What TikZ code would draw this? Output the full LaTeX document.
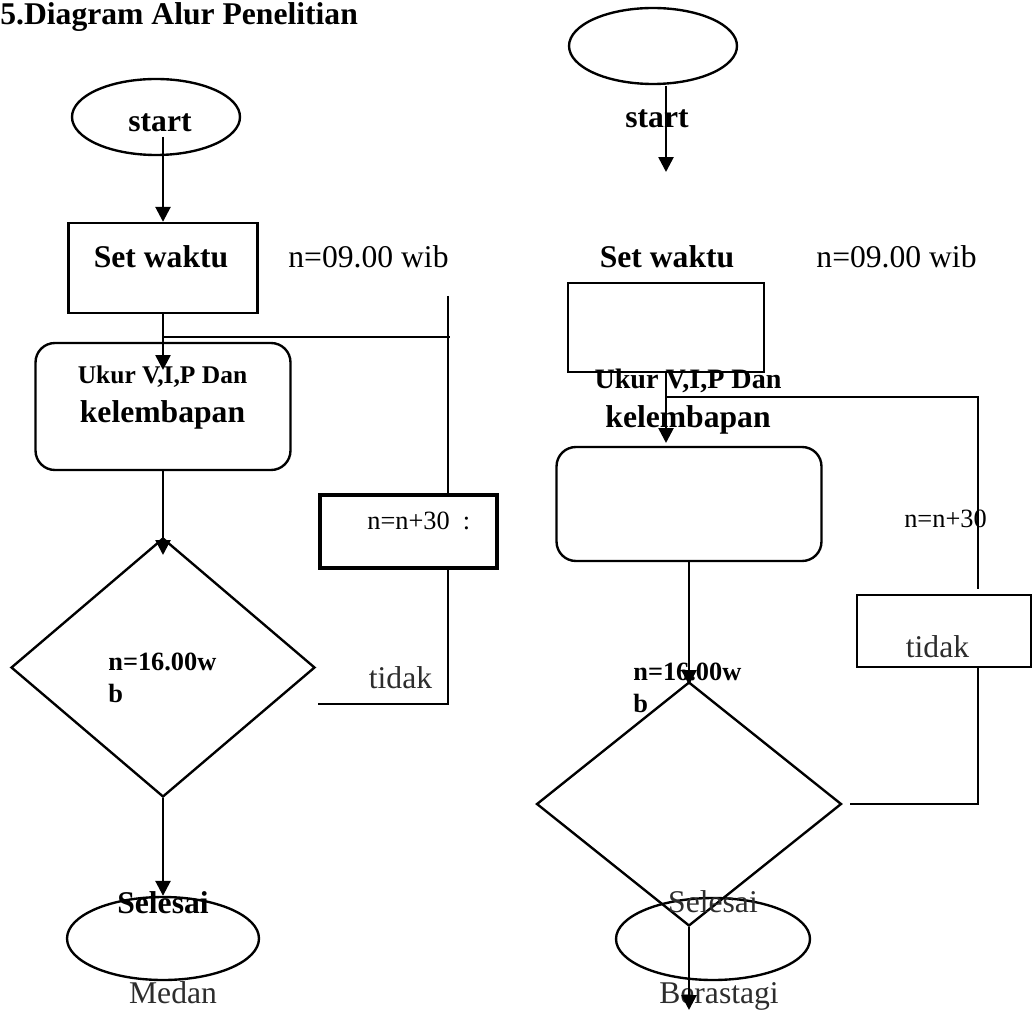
\documentclass[tikz,border=0pt]{standalone}
\usepackage{fontspec}
\setmainfont{Liberation Serif}
\usetikzlibrary{positioning,calc,shapes.geometric,arrows.meta}
\definecolor{abu}{RGB}{45,45,45}
\tikzset{
  bentuk/.style={draw, line width=1.35pt, inner sep=0pt},
  oval/.style={bentuk, ellipse},
  kotak/.style={bentuk, rectangle},
  proses/.style={bentuk, rectangle, rounded corners=11pt},
  putusan/.style={bentuk, diamond},
  teks/.style={inner sep=0pt, anchor=base, font=\fontsize{18}{21}\selectfont},
  tebal/.style={teks, font=\bfseries\fontsize{18}{21}\selectfont},
  kecil/.style={teks, font=\bfseries\fontsize{15}{18}\selectfont},
  panah/.style={->, line width=1.5pt},
  garis/.style={line width=0.9pt}
}

\begin{document}
\begin{tikzpicture}[x=0.02cm, y=-0.02cm, >={Triangle[width=8.5pt,length=8.5pt]}]
    \useasboundingbox (0,0) rectangle (1033,1023);

    \node [tebal, anchor=base west] (judul) at (0,25) {5.Diagram Alur Penelitian};

    % Medan
    \node [oval, minimum width=3.36cm, minimum height=1.52cm] (startA) at (156,117) {};
    \node [kotak, minimum width=3.78cm, minimum height=1.8cm] (setA) at (163,268) {};
    \node [proses, minimum width=5.1cm, minimum height=2.54cm] (ukurA) at (163,406.5) {};
    \node [putusan, minimum width=6.08cm, minimum height=5.18cm] (cekA) at (163,667.5) {};
    \node [kotak, line width=1.8pt, minimum width=3.54cm, minimum height=1.46cm] (tambahA) at (408.5,531.5) {};
    \node [oval, minimum width=3.84cm, minimum height=1.66cm] (selesaiA) at (163,938.5) {};

    \node [tebal] (tStartA) at (160,132) {start};
    \node [tebal] (tSetA) at (161,268) {Set waktu};
    \node [teks] (tJamA) at (368.5,268) {n=09.00 wib};
    \node [kecil, font=\bfseries\fontsize{14.5}{17}\selectfont] (tUkurA) at (162.5,383) {Ukur V,I,P Dan};
    \node [tebal] (tLembabA) at (162.5,422) {kelembapan};
    \node [teks, anchor=base west, font=\fontsize{15}{18}\selectfont] (tTambahA) at (367,529) {n=n+30\ \ :};
    \node [kecil, anchor=base west, align=left] (tCekA) at (108,702) {n=16.00w\\b};
    \node [teks, text=abu] (tTidakA) at (400.5,688) {tidak};
    \node [tebal] (tSelesaiA) at (163,913) {Selesai};
    \node [teks, text=abu] (tMedan) at (173,1003) {Medan};

    \coordinate (aA) at (163,137);
    \coordinate (tipA1) at (163,370);
    \coordinate (jA) at (163,337);
    \coordinate (kA) at (450,337);
    \coordinate (pA) at (448,296);
    \coordinate (tipA2) at (163,555);
    \coordinate (noA) at (318,704);
    \coordinate (cA) at (448,704);

    \draw [panah] (aA) -- (aA |- setA.north);
    \draw [panah] (setA.south) -- (tipA1);
    \draw [garis] (jA) -- (kA);
    \draw [garis] (pA) -- (pA |- tambahA.north);
    \draw [panah] (ukurA.south) -- (tipA2);
    \draw [garis] (noA) -- (cA) -- (cA |- tambahA.south);
    \draw [panah] (cekA.south) -- (selesaiA.north);

    % Berastagi
    \node [oval, minimum width=3.36cm, minimum height=1.52cm] (startB) at (653,46) {};
    \node [kotak, minimum width=3.92cm, minimum height=1.78cm] (setB) at (666,327.5) {};
    \node [proses, minimum width=5.3cm, minimum height=2.28cm] (ukurB) at (689,504) {};
    \node [putusan, minimum width=6.1cm, minimum height=4.88cm] (cekB) at (689,804) {};
    \node [kotak, minimum width=3.48cm, minimum height=1.44cm] (tambahB) at (944,631) {};
    \node [oval, minimum width=3.88cm, minimum height=1.64cm] (selesaiB) at (713,939) {};

    \node [tebal] (tStartB) at (657,128) {start};
    \node [tebal] (tSetB) at (667,268) {Set waktu};
    \node [teks] (tJamB) at (896.5,268) {n=09.00 wib};
    \node [kecil, font=\bfseries\fontsize{16}{19}\selectfont] (tUkurB) at (688,388) {Ukur V,I,P Dan};
    \node [tebal] (tLembabB) at (688,427) {kelembapan};
    \node [teks, font=\fontsize{15}{18}\selectfont] (tTambahB) at (945.5,527) {n=n+30};
    \node [kecil, anchor=base west, align=left] (tCekB) at (633,712) {n=16.00w\\b};
    \node [teks, text=abu] (tTidakB) at (937.5,657) {tidak};
    \node [teks, text=abu] (tSelesaiB) at (713,912) {Selesai};
    \node [teks, text=abu] (tBerastagi) at (719,1003) {Berastagi};

    \coordinate (aB) at (666,86);
    \coordinate (bB) at (666,172);
    \coordinate (tipB1) at (666,443);
    \coordinate (jB) at (666,397);
    \coordinate (kB) at (978,589);
    \coordinate (tipB2) at (689,685);
    \coordinate (noB) at (850,804);
    \coordinate (cB) at (978,804);
    \coordinate (tipB3) at (689,1010);

    \draw [panah] (aB) -- (bB);
    \draw [panah] (setB.south) -- (tipB1);
    \draw [garis] (jB) -| (kB);
    \draw [panah] (ukurB.south) -- (tipB2);
    \draw [garis] (noB) -- (cB) -- (cB |- tambahB.south);
    \draw [panah] (cekB.south) -- (tipB3);

\end{tikzpicture}
\end{document}
